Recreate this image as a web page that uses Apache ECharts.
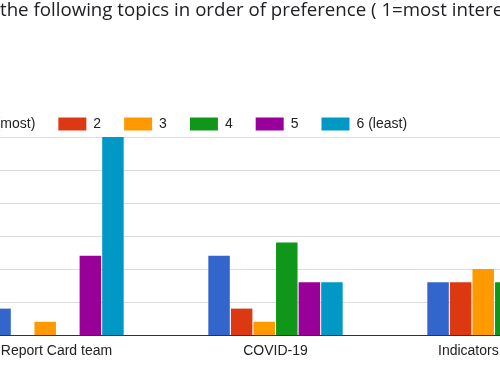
<!DOCTYPE html>
<html>
<head>
<meta charset="utf-8">
<script src="https://cdn.jsdelivr.net/npm/echarts@6/dist/echarts.min.js"></script>
<style>
html,body{margin:0;padding:0;background:#fff;}
#chart{width:500px;height:380px;}
</style>
</head>
<body>
<div id="chart"></div>
<script>
const titleText = "the following topics in order of preference ( 1=most intere";
const categories = ["Report Card team", "COVID-19", "Indicators"];
const seriesNames = ["1 (most)", "2", "3", "4", "5", "6 (least)"];
const rank1 = [2, 6, 4];
const rank2 = [0, 2, 4];
const rank3 = [1, 1, 5];
const rank4 = [0, 7, 4];
const rank5 = [6, 4, 4];
const rank6 = [15, 4, 3];
const yTicks = [0, 2.5, 5, 7.5, 10, 12.5, 15];

const seriesValues = [rank1, rank2, rank3, rank4, rank5, rank6];
const colors = ["#3366cc", "#dc3912", "#ff9900", "#109618", "#990099", "#0099c6"];

const chart = echarts.init(document.getElementById('chart'), null, {renderer: 'canvas'});
chart.setOption({
  animation: false,
  color: colors,
  title: {
    text: titleText,
    left: 0,
    top: 1,
    padding: 0,
    textStyle: {fontFamily: 'Open Sans', fontSize: 18.7, fontWeight: 'normal', color: '#202124'}
  },
  legend: {
    data: seriesNames,
    left: -51,
    top: 117,
    padding: 0,
    icon: 'rect',
    itemWidth: 28,
    itemHeight: 13,
    itemGap: 23,
    textStyle: {fontFamily: 'Liberation Sans', fontSize: 14, color: '#222', padding: [0, 0, 0, 2]}
  },
  grid: {left: -53, right: -104, top: 137, bottom: 45, containLabel: false, outerBoundsMode: 'none'},
  xAxis: {
    type: 'category',
    data: categories,
    axisLine: {lineStyle: {color: '#333', width: 1}},
    axisTick: {show: false},
    axisLabel: {
      interval: 0,
      margin: 9,
      hideOverlap: false,
      fontFamily: 'Liberation Sans',
      fontSize: 14,
      color: '#222',
      formatter: function (v) { return v === 'Indicators' ? '{w|' + v + '}' : v; },
      rich: {w: {width: 113, align: 'left', fontFamily: 'Liberation Sans', fontSize: 14, color: '#222'}}
    }
  },
  yAxis: {
    type: 'value',
    min: 0,
    max: yTicks[yTicks.length - 1],
    interval: yTicks[1] - yTicks[0],
    axisLabel: {show: false},
    axisLine: {show: false},
    axisTick: {show: false},
    splitLine: {lineStyle: {color: '#dcdcdc', width: 1}}
  },
  series: seriesNames.map(function (name, i) {
    return {
      name: name,
      type: 'bar',
      data: seriesValues[i],
      barWidth: 21.5,
      barGap: '5%'
    };
  })
});
</script>
</body>
</html>
